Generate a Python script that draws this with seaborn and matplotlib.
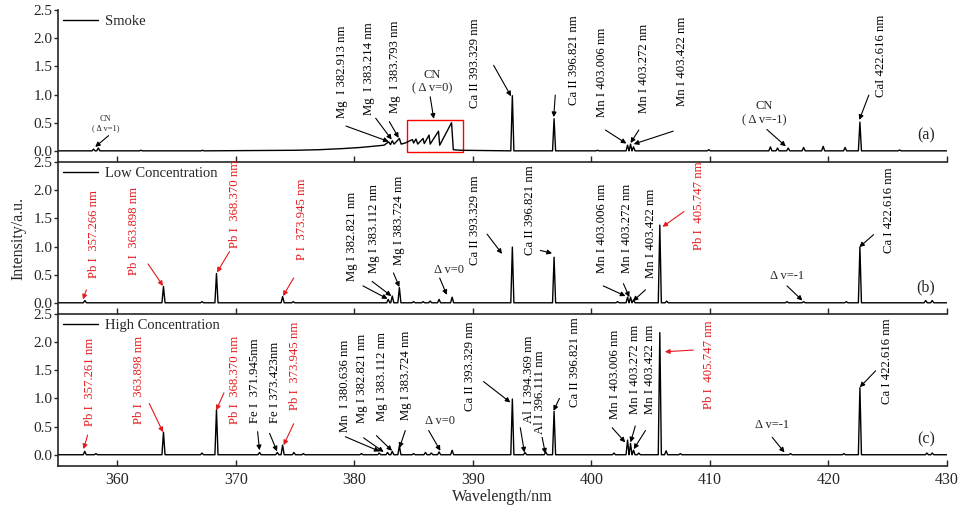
import numpy as np
import pandas as pd
import matplotlib
matplotlib.use("Agg")
import matplotlib.pyplot as plt
from matplotlib.patches import Rectangle
import seaborn as sns

# ---- data (wavelength nm, intensity a.u.) ----
# (a) smoke: CN band / Mg region kept as explicit points
smoke_band_nm = [375.0, 377.0, 379.0, 380.5, 381.5, 382.5, 382.9, 383.05, 383.2, 383.35,
                 383.8, 383.95, 384.3, 384.9, 385.0, 385.2, 385.35, 385.8, 385.9, 386.3,
                 386.4, 387.1, 387.2, 388.2, 388.35, 389.0]
smoke_band_int = [0.01, 0.02, 0.04, 0.06, 0.08, 0.1, 0.16, 0.11, 0.18, 0.12,
                  0.22, 0.12, 0.14, 0.2, 0.14, 0.21, 0.12, 0.22, 0.13, 0.28,
                  0.12, 0.35, 0.1, 0.5, 0.02, 0.01]
smoke_peak_nm = [358.0, 358.4, 362.0, 367.2, 393.33, 396.85, 400.5, 403.05, 403.3, 403.55,
                 409.9, 415.1, 415.7, 416.6, 417.9, 419.55, 421.4, 422.65, 426.0]
smoke_peak_int = [0.03, 0.05, 0.01, 0.01, 0.98, 0.57, 0.01, 0.1, 0.12, 0.07,
                  0.02, 0.07, 0.05, 0.05, 0.06, 0.08, 0.06, 0.51, 0.015]

# (b) low concentration
low_peak_nm = [357.27, 363.9, 367.15, 368.37, 373.95, 374.85, 382.86, 383.2, 383.8, 385.0,
               385.8, 386.4, 387.15, 388.25, 393.33, 396.85, 402.2, 403.05, 403.3, 403.55,
               405.77, 406.35, 416.5, 417.9, 421.5, 422.65, 428.2, 428.75]
low_peak_int = [0.04, 0.29, 0.02, 0.52, 0.11, 0.02, 0.06, 0.12, 0.27, 0.02,
                0.02, 0.03, 0.06, 0.1, 0.99, 0.81, 0.02, 0.1, 0.1, 0.05,
                1.38, 0.03, 0.02, 0.02, 0.02, 0.99, 0.04, 0.04]

# (c) high concentration
high_peak_nm = [357.26, 358.2, 363.9, 367.15, 368.37, 372.0, 373.5, 373.95, 374.9, 375.7,
                380.6, 382.1, 382.8, 383.2, 383.8, 385.0, 386.0, 386.5, 387.15, 388.25,
                393.33, 394.4, 396.15, 396.85, 401.9, 403.05, 403.3, 403.55, 404.0, 405.77,
                406.3, 407.5, 416.8, 421.3, 422.65, 428.3, 428.75]
high_peak_int = [0.06, 0.02, 0.4, 0.03, 0.8, 0.04, 0.04, 0.17, 0.04, 0.02,
                 0.02, 0.03, 0.04, 0.06, 0.16, 0.02, 0.04, 0.03, 0.05, 0.08,
                 0.99, 0.04, 0.05, 0.77, 0.03, 0.26, 0.2, 0.08, 0.03, 2.17,
                 0.07, 0.02, 0.02, 0.02, 1.19, 0.03, 0.03]

series_names = ["Smoke", "Low Concentration", "High Concentration"]
panel_tags = ["(a)", "(b)", "(c)"]

RED = "#e3191c"
K = "black"

# label, colour, text x, text y, arrow from (x, y), arrow to (x, y)
ann_a = [
    ("Mg  I 382.913 nm", K, 378.96, 0.585, 379.3, 0.44, 382.9, 0.165),
    ("Mg  I 383.214 nm", K, 381.2, 0.64, 381.8, 0.58, 383.15, 0.2),
    ("Mg  I 383.793 nm", K, 383.46, 0.67, 382.95, 0.52, 383.74, 0.23),
    ("Ca II 393.329 nm", K, 390.2, 0.76, 391.75, 1.52, 393.22, 0.97),
    ("Ca II 396.821 nm", K, 398.57, 0.82, 396.95, 0.99, 396.82, 0.6),
    ("Mn I 403.006 nm", K, 400.9, 0.61, 401.18, 0.37, 402.95, 0.13),
    ("Mn I 403.272 nm", K, 404.4, 0.67, 404.0, 0.37, 403.3, 0.14),
    ("Mn I 403.422 nm", K, 407.65, 0.79, 406.9, 0.35, 403.57, 0.12),
    ("CaI 422.616 nm", K, 424.4, 0.96, 423.4, 0.99, 422.6, 0.55),
]
ann_b = [
    ("Pb I  357.266 nm", RED, 358.0, 0.44, 357.4, 0.23, 357.1, 0.06),
    ("Pb I  363.898 nm", RED, 361.4, 0.50, 362.6, 0.69, 363.86, 0.3),
    ("Pb I  368.370 nm", RED, 369.96, 0.97, 369.47, 0.91, 368.41, 0.54),
    ("P I  373.945 nm", RED, 375.6, 0.76, 374.88, 0.44, 373.98, 0.12),
    ("Mg I 382.821 nm", K, 379.8, 0.38, 380.73, 0.30, 382.8, 0.07),
    ("Mg I 383.112 nm", K, 381.7, 0.53, 381.5, 0.38, 383.12, 0.12),
    ("Mg I 383.724 nm", K, 383.74, 0.67, 383.3, 0.53, 383.8, 0.28),
    ("Ca II 393.329 nm", K, 390.2, 0.67, 391.2, 1.22, 392.46, 0.87),
    ("Ca II 396.821 nm", K, 394.85, 0.85, 395.7, 0.93, 396.68, 0.88),
    ("Mn I 403.006 nm", K, 400.9, 0.53, 401.0, 0.3, 402.87, 0.12),
    ("Mn I 403.272 nm", K, 403.0, 0.53, 402.7, 0.34, 403.2, 0.1),
    ("Mn I 403.422 nm", K, 405.0, 0.44, 404.56, 0.23, 403.5, 0.03),
    ("Pb I  405.747 nm", RED, 409.06, 0.94, 407.8, 1.62, 406.0, 1.35),
    ("Ca I 422.616 nm", K, 425.1, 0.88, 423.8, 1.21, 422.6, 0.99),
]
ann_c = [
    ("Pb I  357.261 nm", RED, 357.7, 0.51, 357.5, 0.35, 357.16, 0.1),
    ("Pb I  363.898 nm", RED, 361.8, 0.55, 362.7, 0.91, 363.86, 0.4),
    ("Pb I  368.370 nm", RED, 369.96, 0.54, 369.0, 1.1, 368.35, 0.79),
    ("Fe I  371.945nm", K, 371.65, 0.57, 371.84, 0.41, 372.0, 0.08),
    ("Fe I 373.423nm", K, 373.33, 0.57, 372.85, 0.38, 373.48, 0.06),
    ("Pb I  373.945 nm", RED, 375.0, 0.79, 374.88, 0.55, 374.03, 0.17),
    ("Mn  I 380.636 nm", K, 379.24, 0.4, 379.24, 0.32, 382.13, 0.06),
    ("Mg I 382.821 nm", K, 380.65, 0.57, 380.78, 0.3, 382.47, 0.05),
    ("Mg I 383.112 nm", K, 382.34, 0.6, 381.86, 0.34, 383.18, 0.07),
    ("Mg I 383.724 nm", K, 384.39, 0.62, 384.3, 0.43, 383.8, 0.12),
    ("Ca II 393.329 nm", K, 389.79, 0.78, 390.9, 1.3, 393.16, 0.93),
    ("Al  I 394.369 nm", K, 394.7, 0.57, 394.0, 0.48, 394.35, 0.04),
    ("Al I 396.111 nm", K, 395.7, 0.37, 395.84, 0.31, 396.12, 0.02),
    ("Ca II 396.821 nm", K, 398.65, 0.84, 397.3, 1.0, 396.8, 0.78),
    ("Mn I 403.006 nm", K, 402.0, 0.63, 401.75, 0.48, 402.85, 0.22),
    ("Mn I 403.272 nm", K, 403.7, 0.72, 403.7, 0.51, 403.3, 0.22),
    ("Mn I 403.422 nm", K, 404.98, 0.72, 404.56, 0.43, 403.57, 0.1),
    ("Pb I  405.747 nm", RED, 409.9, 0.81, 408.6, 1.86, 406.2, 1.83),
    ("Ca I 422.616 nm", K, 424.95, 0.9, 423.97, 1.49, 422.64, 1.2),
]
# horizontal labels: text, x, y, size, arrow from, arrow to
flat_a = [
    ("CN\n( Δ v=1)", 359.0, 0.33, 6, 359.27, 0.27, 358.14, 0.07),
    ("CN\n( Δ v=0)", 386.6, 1.0, 9, 386.4, 0.96, 386.7, 0.57),
    ("CN\n( Δ v=-1)", 414.6, 0.44, 9, 414.8, 0.38, 416.4, 0.08),
]
flat_b = [
    ("Δ v=0", 387.96, 0.48, 9, 387.2, 0.44, 387.8, 0.14),
    ("Δ v=-1", 416.5, 0.37, 9, 416.5, 0.3, 417.8, 0.04),
]
flat_c = [
    ("Δ v=0", 387.2, 0.49, 9, 386.27, 0.43, 387.26, 0.07),
    ("Δ v=-1", 415.25, 0.43, 9, 415.25, 0.31, 416.29, 0.04),
]

HW = 0.13  # half base width of a line


def spectrum(peak_nm, peak_int, band_nm=(), band_int=()):
    xs = [355.0, 430.0] + list(band_nm)
    ys = [0.0, 0.0] + list(band_int)
    for c, v in zip(peak_nm, peak_int):
        xs += [c - HW, c, c + HW]
        ys += [0.0, v, 0.0]
    return pd.DataFrame({"nm": xs, "intensity": ys}).sort_values("nm")


frames = [
    spectrum(smoke_peak_nm, smoke_peak_int, smoke_band_nm, smoke_band_int),
    spectrum(low_peak_nm, low_peak_int),
    spectrum(high_peak_nm, high_peak_int),
]

sns.set_style("ticks")
plt.rcParams["font.family"] = ["Liberation Serif", "DejaVu Serif"]

fig, axes = plt.subplots(3, 1, figsize=(9.6, 5.08), dpi=100, sharex=True)
fig.subplots_adjust(left=0.0604, right=0.9865, bottom=0.0827, top=0.98, hspace=0)

for ax, df, name, tag, ann, flat in zip(axes, frames, series_names, panel_tags,
                                        [ann_a, ann_b, ann_c], [flat_a, flat_b, flat_c]):
    ax.set_facecolor("none")
    sns.lineplot(data=df, x="nm", y="intensity", ax=ax, color="black", lw=1.0,
                 estimator=None, sort=True, label=name)
    ax.set_xlim(355, 430)
    ax.set_ylim(-0.2, 2.5)
    ax.set_yticks([0.0, 0.5, 1.0, 1.5, 2.0, 2.5])
    ax.set_yticklabels(["0.0", "0.5", "1.0", "1.5", "2.0", "2.5"])
    ax.set_xticks(range(360, 431, 10))
    ax.set_xlabel("")
    ax.set_ylabel("")
    sns.despine(ax=ax, top=True, right=True)
    for s in ["left", "bottom"]:
        ax.spines[s].set_linewidth(1.2)
    ax.tick_params(axis="x", direction="in", length=4, width=1, labelsize=11.5, pad=4)
    ax.tick_params(axis="y", direction="out", length=3, width=1, labelsize=11, pad=1)
    ax.legend(loc="upper left", frameon=False, handlelength=2.4, fontsize=10.5,
              borderaxespad=0.1, borderpad=0.25, handletextpad=0.5)
    ax.text(428.2, 0.28, tag, fontsize=11.5, ha="center", va="center")

    for lab, col, tx, ty, x0, y0, x1, y1 in ann:
        ax.text(tx, ty, lab, rotation=90, ha="center", va="bottom", fontsize=9.2,
                color=col, clip_on=False, zorder=5)
        ax.annotate("", xy=(x1, y1), xytext=(x0, y0), annotation_clip=False,
                    arrowprops=dict(arrowstyle="-|>", color=col, lw=0.8, mutation_scale=7,
                                    shrinkA=0, shrinkB=0))
    for lab, tx, ty, fs, x0, y0, x1, y1 in flat:
        ax.text(tx, ty, lab, ha="center", va="bottom", fontsize=fs, linespacing=1.2)
        ax.annotate("", xy=(x1, y1), xytext=(x0, y0), annotation_clip=False,
                    arrowprops=dict(arrowstyle="-|>", color="black", lw=0.8, mutation_scale=7,
                                    shrinkA=0, shrinkB=0))

# red frame around the CN (Δv=0) band in the smoke spectrum
axes[0].add_patch(Rectangle((384.47, -0.02), 4.7, 0.57, fill=False, edgecolor="red", lw=1.0))

axes[1].set_ylabel("Intensity/a.u.", fontsize=11.5, labelpad=5)
axes[2].set_xlabel("Wavelength/nm", fontsize=11.5, labelpad=1)

fig.savefig("out.png", dpi=100)
